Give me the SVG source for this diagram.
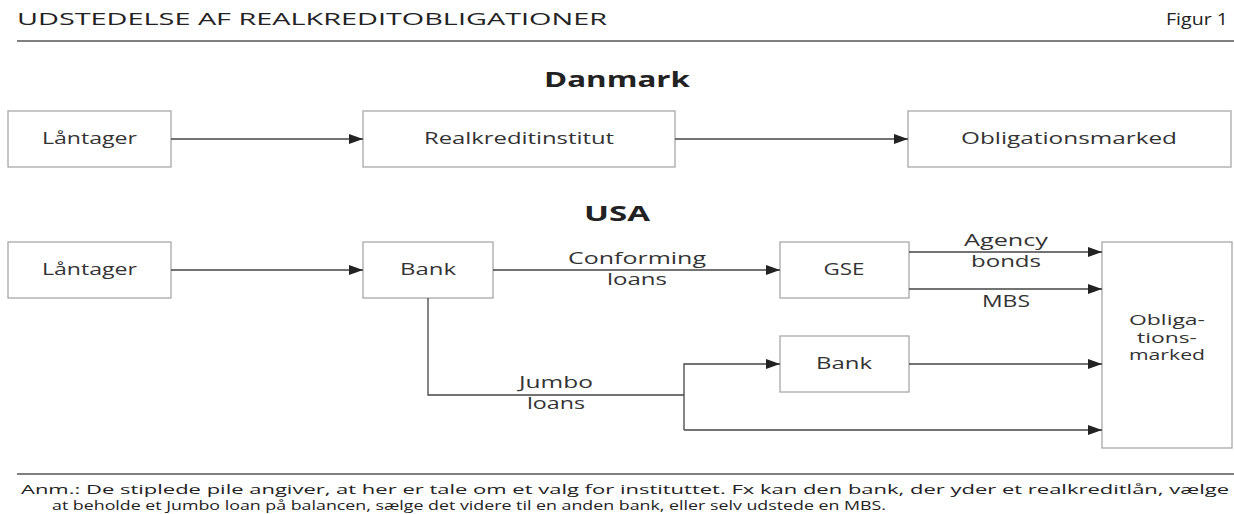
<svg xmlns="http://www.w3.org/2000/svg" width="1234" height="514" viewBox="0 0 1234 514">
<style>
.bg{fill:#fff}
.box{fill:#fff;stroke:#a8a8a8;stroke-width:1.3}
.t{font-family:"Open Sans","DejaVu Sans",sans-serif;font-size:16px;fill:#333;text-anchor:middle}
.ob{font-size:15px}
.h{font-family:"Open Sans","DejaVu Sans",sans-serif;font-size:22px;font-weight:bold;fill:#222;text-anchor:middle}
.title{font-family:"Open Sans","DejaVu Sans",sans-serif;font-size:17px;fill:#222}
.note{font-family:"Open Sans","DejaVu Sans",sans-serif;font-size:13.5px;fill:#222}
.rule{stroke:#555;stroke-width:1.3}
.c{fill:none;stroke:#444;stroke-width:1.3}
</style>
<defs>
<marker id="ah" viewBox="0 0 14 10" refX="14" refY="5" markerWidth="14" markerHeight="10" markerUnits="userSpaceOnUse" orient="auto">
<path d="M0,0 L14,5 L0,10 z" fill="#222"/>
</marker>
</defs>
<rect class="bg" x="0" y="0" width="1234" height="514"/>
<g id="header">
<text class="title" x="17" y="25" textLength="590" lengthAdjust="spacingAndGlyphs">UDSTEDELSE AF REALKREDITOBLIGATIONER</text>
<text class="title" x="1228" y="25" text-anchor="end" textLength="62" lengthAdjust="spacingAndGlyphs">Figur 1</text>
<line class="rule" x1="17" y1="41" x2="1234" y2="41"/>
</g>
<g id="heading-dk"><text class="h" x="617" y="87" textLength="146" lengthAdjust="spacingAndGlyphs">Danmark</text></g>
<g id="heading-usa"><text class="h" x="617" y="221" textLength="66" lengthAdjust="spacingAndGlyphs">USA</text></g>

<g id="dk-laantager"><rect class="box" x="8" y="111" width="163" height="56"/><text class="t" x="89.5" y="144" textLength="95" lengthAdjust="spacingAndGlyphs">Låntager</text></g>
<g id="dk-realkredit"><rect class="box" x="363" y="111" width="312" height="56"/><text class="t" x="519" y="144" textLength="190" lengthAdjust="spacingAndGlyphs">Realkreditinstitut</text></g>
<g id="dk-oblig"><rect class="box" x="908" y="111" width="323" height="56"/><text class="t" x="1069" y="144" textLength="216" lengthAdjust="spacingAndGlyphs">Obligationsmarked</text></g>

<g id="us-laantager"><rect class="box" x="8" y="242" width="163" height="56"/><text class="t" x="89.5" y="275" textLength="95" lengthAdjust="spacingAndGlyphs">Låntager</text></g>
<g id="us-bank"><rect class="box" x="363" y="242" width="130" height="56"/><text class="t" x="428" y="275" textLength="56" lengthAdjust="spacingAndGlyphs">Bank</text></g>
<g id="us-gse"><rect class="box" x="780" y="242" width="129" height="56"/><text class="t" x="844" y="275" textLength="41" lengthAdjust="spacingAndGlyphs">GSE</text></g>
<g id="us-bank2"><rect class="box" x="780" y="336" width="129" height="56"/><text class="t" x="844" y="369" textLength="56" lengthAdjust="spacingAndGlyphs">Bank</text></g>
<g id="us-oblig"><rect class="box" x="1102" y="242" width="130" height="206"/>
<text class="t ob" x="1167" y="325" textLength="76" lengthAdjust="spacingAndGlyphs">Obliga-</text>
<text class="t ob" x="1167" y="342.5" textLength="60" lengthAdjust="spacingAndGlyphs">tions-</text>
<text class="t ob" x="1167" y="360" textLength="76" lengthAdjust="spacingAndGlyphs">marked</text></g>

<g id="connectors">
<line class="c" x1="171" y1="139" x2="363" y2="139" marker-end="url(#ah)"/>
<line class="c" x1="675" y1="139" x2="908" y2="139" marker-end="url(#ah)"/>
<line class="c" x1="171" y1="270" x2="363" y2="270" marker-end="url(#ah)"/>
<line class="c" x1="493" y1="270" x2="780" y2="270" marker-end="url(#ah)"/>
<line class="c" x1="909" y1="252" x2="1102" y2="252" marker-end="url(#ah)"/>
<line class="c" x1="909" y1="289" x2="1102" y2="289" marker-end="url(#ah)"/>
<polyline class="c" points="428,298 428,395 684,395"/>
<polyline class="c" points="684,430 684,364 780,364" marker-end="url(#ah)"/>
<line class="c" x1="684" y1="430" x2="1102" y2="430" marker-end="url(#ah)"/>
<line class="c" x1="909" y1="364" x2="1102" y2="364" marker-end="url(#ah)"/>
</g>
<g id="connector-labels">
<text class="t" x="637" y="264" textLength="138" lengthAdjust="spacingAndGlyphs">Conforming</text>
<text class="t" x="637" y="285" textLength="60" lengthAdjust="spacingAndGlyphs">loans</text>
<text class="t" x="1006" y="246" textLength="84" lengthAdjust="spacingAndGlyphs">Agency</text>
<text class="t" x="1006" y="267" textLength="70" lengthAdjust="spacingAndGlyphs">bonds</text>
<text class="t" x="1006" y="307" textLength="48" lengthAdjust="spacingAndGlyphs">MBS</text>
<text class="t" x="556" y="388" textLength="74" lengthAdjust="spacingAndGlyphs">Jumbo</text>
<text class="t" x="556" y="409" textLength="58" lengthAdjust="spacingAndGlyphs">loans</text>
</g>
<g id="note">
<line class="rule" x1="17" y1="474" x2="1234" y2="474"/>
<text class="note" x="21" y="494" textLength="1208" lengthAdjust="spacingAndGlyphs">Anm.: De stiplede pile angiver, at her er tale om et valg for instituttet. Fx kan den bank, der yder et realkreditlån, vælge</text>
<text class="note" x="52" y="510" textLength="834" lengthAdjust="spacingAndGlyphs">at beholde et Jumbo loan på balancen, sælge det videre til en anden bank, eller selv udstede en MBS.</text>
</g>
</svg>
